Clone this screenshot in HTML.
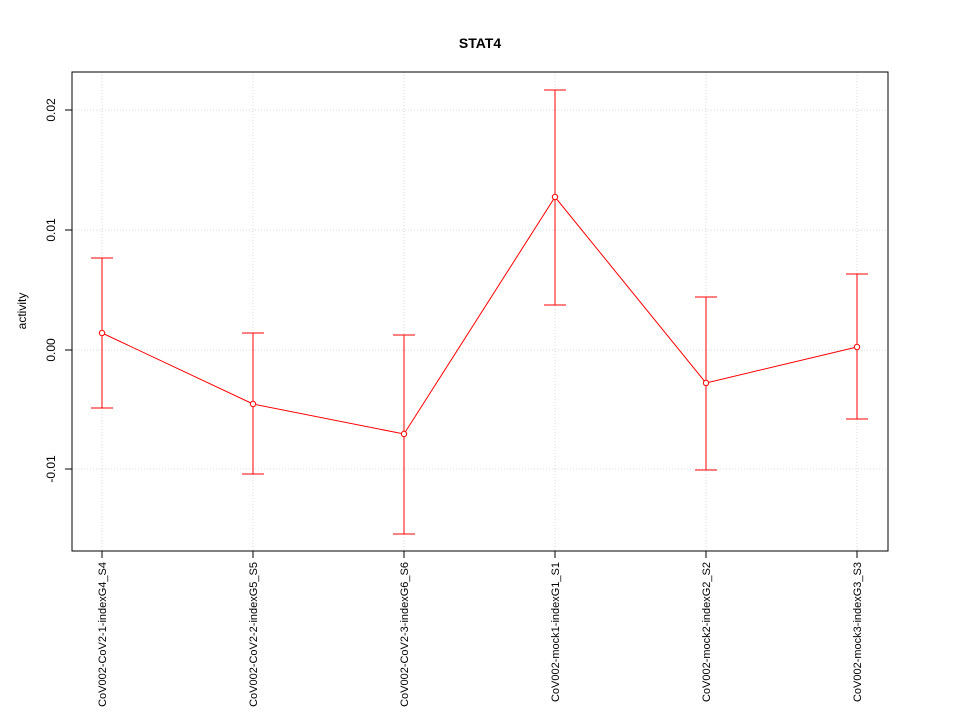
<!DOCTYPE html>
<html><head><meta charset="utf-8"><style>body{margin:0;background:#fff}svg{display:block}</style></head>
<body>
<svg width="960" height="720" xmlns="http://www.w3.org/2000/svg" font-family="Liberation Sans, sans-serif">
<rect width="960" height="720" fill="#fff"/>
<text x="480" y="48" text-anchor="middle" font-weight="bold" font-size="14">STAT4</text>
<g stroke="#d0d0d0" stroke-dasharray="1,2" stroke-width="0.8">
<line x1="102" y1="72" x2="102" y2="551"/><line x1="253" y1="72" x2="253" y2="551"/>
<line x1="404" y1="72" x2="404" y2="551"/><line x1="555" y1="72" x2="555" y2="551"/>
<line x1="706" y1="72" x2="706" y2="551"/><line x1="857" y1="72" x2="857" y2="551"/>
<line x1="72" y1="110" x2="888" y2="110"/><line x1="72" y1="230" x2="888" y2="230"/>
<line x1="72" y1="350" x2="888" y2="350"/><line x1="72" y1="469" x2="888" y2="469"/>
</g>
<rect x="72" y="72" width="816" height="479" fill="none" stroke="#000"/>
<g stroke="#000">
<line x1="72" y1="110" x2="65" y2="110"/><line x1="72" y1="230" x2="65" y2="230"/>
<line x1="72" y1="350" x2="65" y2="350"/><line x1="72" y1="469" x2="65" y2="469"/>
<line x1="102" y1="551" x2="102" y2="558"/><line x1="253" y1="551" x2="253" y2="558"/>
<line x1="404" y1="551" x2="404" y2="558"/><line x1="555" y1="551" x2="555" y2="558"/>
<line x1="706" y1="551" x2="706" y2="558"/><line x1="857" y1="551" x2="857" y2="558"/>
</g>
<g font-size="12" text-anchor="middle">
<text transform="translate(55,110) rotate(-90)">0.02</text>
<text transform="translate(55,230) rotate(-90)">0.01</text>
<text transform="translate(55,350) rotate(-90)">0.00</text>
<text transform="translate(55,469) rotate(-90)">-0.01</text>
<text transform="translate(26,311) rotate(-90)">activity</text>
</g>
<g font-size="11" text-anchor="end">
<text transform="translate(106,562) rotate(-90)">CoV002-CoV2-1-indexG4_S4</text>
<text transform="translate(257,562) rotate(-90)">CoV002-CoV2-2-indexG5_S5</text>
<text transform="translate(408,562) rotate(-90)">CoV002-CoV2-3-indexG6_S6</text>
<text transform="translate(559,562) rotate(-90)">CoV002-mock1-indexG1_S1</text>
<text transform="translate(710,562) rotate(-90)">CoV002-mock2-indexG2_S2</text>
<text transform="translate(861,562) rotate(-90)">CoV002-mock3-indexG3_S3</text>
</g>
<g stroke="#ff0000" fill="none" stroke-width="1">
<polyline points="102,333 253,404 404,434 555,197 706,383 857,347"/>
<path d="M102,258V408M91,258H113M91,408H113"/>
<path d="M253,333V474M242,333H264M242,474H264"/>
<path d="M404,335V534M393,335H415M393,534H415"/>
<path d="M555,90V305M544,90H566M544,305H566"/>
<path d="M706,297V470M695,297H717M695,470H717"/>
<path d="M857,274V419M846,274H868M846,419H868"/>
<g fill="#fff">
<circle cx="102" cy="333" r="2.7"/><circle cx="253" cy="404" r="2.7"/><circle cx="404" cy="434" r="2.7"/>
<circle cx="555" cy="197" r="2.7"/><circle cx="706" cy="383" r="2.7"/><circle cx="857" cy="347" r="2.7"/>
</g>
</g>
</svg>
</body></html>
